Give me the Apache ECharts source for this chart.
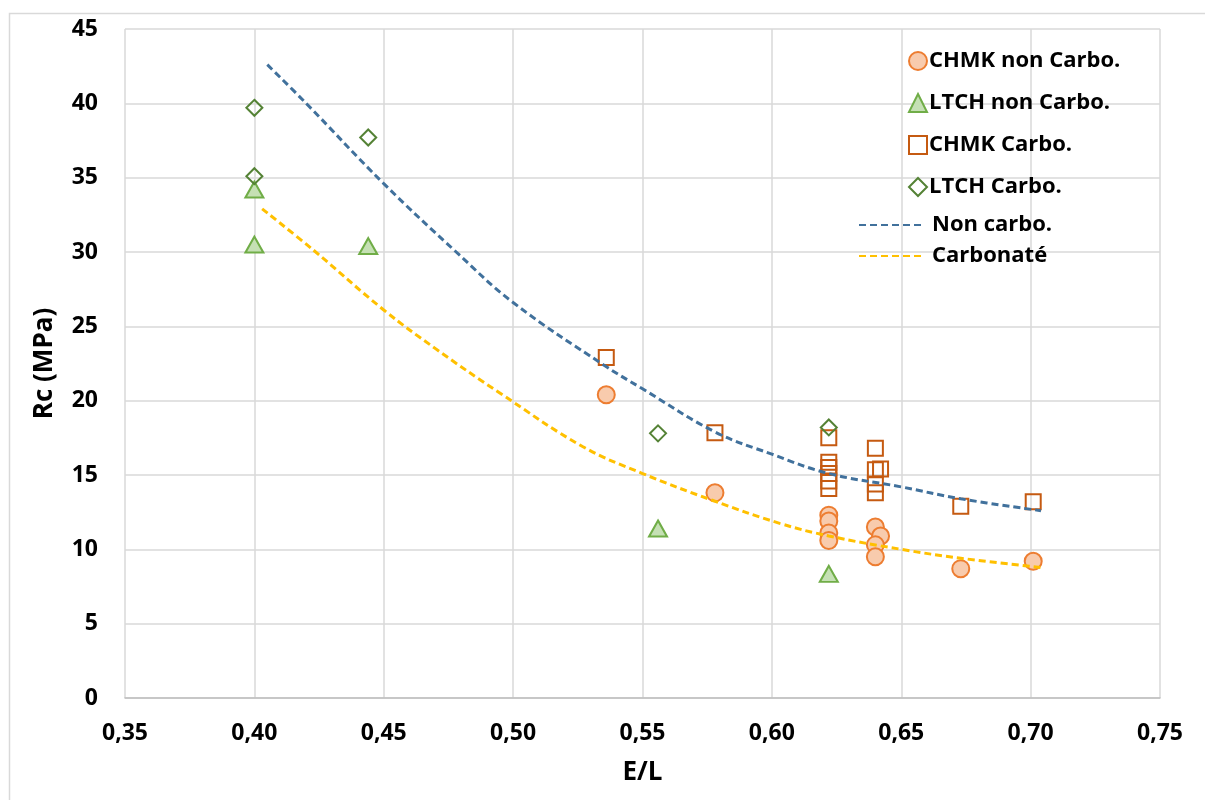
<!DOCTYPE html>
<html>
<head>
<meta charset="utf-8">
<script src="https://cdn.jsdelivr.net/npm/echarts@6/dist/echarts.min.js"></script>
<style>
html,body{margin:0;padding:0;background:#fff;}
#chart{width:1205px;height:800px;}
</style>
</head>
<body>
<div id="chart"></div>
<script>
// ---- data ----
const chmkNonX = [0.536, 0.578, 0.622, 0.622, 0.622, 0.622, 0.640, 0.642, 0.640, 0.640, 0.673, 0.701];
const chmkNonY = [20.4, 13.8, 12.3, 11.9, 11.1, 10.6, 11.5, 10.9, 10.3, 9.5, 8.7, 9.2];

const ltchNonX = [0.400, 0.400, 0.444, 0.556, 0.622];
const ltchNonY = [34.2, 30.5, 30.4, 11.4, 8.35];

const chmkCarX = [0.536, 0.578, 0.622, 0.622, 0.622, 0.622, 0.622, 0.622, 0.640, 0.640, 0.642, 0.640, 0.640, 0.673, 0.701];
const chmkCarY = [22.9, 17.85, 17.5, 15.85, 15.5, 15.1, 14.6, 14.1, 16.8, 15.35, 15.4, 14.4, 13.8, 12.9, 13.2];

const ltchCarX = [0.400, 0.400, 0.444, 0.556, 0.622];
const ltchCarY = [39.7, 35.1, 37.7, 17.8, 18.2];

// trend curves, points
const trendNonX = [0.405, 0.420, 0.450, 0.478, 0.500, 0.535, 0.550, 0.578, 0.600, 0.622, 0.650, 0.673, 0.704];
const trendNonY = [42.6, 40.0, 34.6, 30.0, 26.6, 22.4, 20.8, 17.9, 16.4, 15.1, 14.2, 13.4, 12.6];

const trendCarX = [0.403, 0.423, 0.450, 0.470, 0.495, 0.527, 0.550, 0.577, 0.603, 0.622, 0.650, 0.673, 0.705];
const trendCarY = [32.9, 30.1, 26.1, 23.5, 20.5, 16.9, 15.1, 13.3, 11.75, 10.9, 10.0, 9.4, 8.76];

const seriesNames = ['CHMK non Carbo.', 'LTCH non Carbo.', 'CHMK Carbo.', 'LTCH Carbo.', 'Non carbo.', 'Carbonaté'];
const xTicks = [0.35, 0.40, 0.45, 0.50, 0.55, 0.60, 0.65, 0.70, 0.75];
const yTicks = [0, 5, 10, 15, 20, 25, 30, 35, 40, 45];

const zip = (xs, ys) => xs.map((x, i) => [x, ys[i]]);
const FONT = '"Open Sans", "Liberation Sans", sans-serif';

const chart = echarts.init(document.getElementById('chart'), null, {renderer: 'canvas'});
chart.setOption({
  backgroundColor: '#fff',
  animation: false,
  graphic: [{
    type: 'rect', left: 7, top: 11, silent: true, z: -10,
    shape: {width: 1210, height: 800},
    style: {fill: 'none', stroke: '#d9d9d9', lineWidth: 1.5}
  }],
  grid: {left: 125, right: 45, top: 29, bottom: 102, containLabel: false},
  xAxis: {
    type: 'value', min: xTicks[0], max: xTicks[xTicks.length - 1], interval: 0.05,
    name: 'E/L', nameLocation: 'middle', nameGap: 62,
    nameTextStyle: {fontFamily: FONT, fontWeight: 'bold', fontSize: 26, color: '#000'},
    axisLine: {show: true, lineStyle: {color: '#bfbfbf', width: 1.5}},
    axisTick: {show: false},
    axisLabel: {fontFamily: FONT, fontWeight: 'bold', fontSize: 23, color: '#000', margin: 24,
      formatter: v => v.toFixed(2).replace('.', ',')},
    splitLine: {show: true, lineStyle: {color: '#d9d9d9', width: 1.5}}
  },
  yAxis: {
    type: 'value', min: yTicks[0], max: yTicks[yTicks.length - 1], interval: 5,
    name: 'Rc (MPa)', nameLocation: 'middle', nameGap: 67, nameRotate: 90,
    nameTextStyle: {fontFamily: FONT, fontWeight: 'bold', fontSize: 26, color: '#000'},
    axisLine: {show: false},
    axisTick: {show: false},
    axisLabel: {fontFamily: FONT, fontWeight: 'bold', fontSize: 23, color: '#000', margin: 27},
    splitLine: {show: true, lineStyle: {color: '#d9d9d9', width: 1.5}}
  },
  legend: [{
    data: seriesNames.slice(0, 4),
    orient: 'vertical', left: 903, top: 45,
    itemWidth: 18, itemHeight: 18, itemGap: 20,
    textStyle: {fontFamily: FONT, fontWeight: 'bold', fontSize: 22, lineHeight: 20, color: '#000', padding: [0, 0, 0, -3]}
  }, {
    data: seriesNames.slice(4).map(n => ({name: n, itemStyle: {opacity: 0}})),
    orient: 'vertical', left: 853, top: 209,
    itemWidth: 64, itemHeight: 14, itemGap: 9,
    textStyle: {fontFamily: FONT, fontWeight: 'bold', fontSize: 22, lineHeight: 20, color: '#000', padding: [0, 0, 0, 4]}
  }],
  series: [{
    name: seriesNames[0], type: 'scatter', data: zip(chmkNonX, chmkNonY),
    symbol: 'circle', symbolSize: 17, z: 2,
    itemStyle: {color: '#F8CBAD', borderColor: '#ED7D31', borderWidth: 2, opacity: 1}
  }, {
    name: seriesNames[1], type: 'scatter', data: zip(ltchNonX, ltchNonY),
    symbol: 'triangle', symbolSize: [18, 16], z: 3,
    itemStyle: {color: '#C5E0B4', borderColor: '#70AD47', borderWidth: 2, opacity: 1}
  }, {
    name: seriesNames[2], type: 'scatter', data: zip(chmkCarX, chmkCarY),
    symbol: 'rect', symbolSize: 15, z: 4,
    itemStyle: {color: 'rgba(255,255,255,0)', borderColor: '#C55A11', borderWidth: 2, opacity: 1}
  }, {
    name: seriesNames[3], type: 'scatter', data: zip(ltchCarX, ltchCarY),
    symbol: 'diamond', symbolSize: 16, z: 5,
    itemStyle: {color: 'rgba(255,255,255,0)', borderColor: '#548235', borderWidth: 2, opacity: 1}
  }, {
    name: seriesNames[4], type: 'line', data: zip(trendNonX, trendNonY),
    smooth: 0.4, showSymbol: false, symbol: 'none', z: 6,
    itemStyle: {color: '#41719C'},
    lineStyle: {color: '#41719C', width: 3, type: [7, 4]}
  }, {
    name: seriesNames[5], type: 'line', data: zip(trendCarX, trendCarY),
    smooth: 0.4, showSymbol: false, symbol: 'none', z: 6,
    itemStyle: {color: '#FFC000'},
    lineStyle: {color: '#FFC000', width: 3, type: [7, 4]}
  }]
});
</script>
</body>
</html>
